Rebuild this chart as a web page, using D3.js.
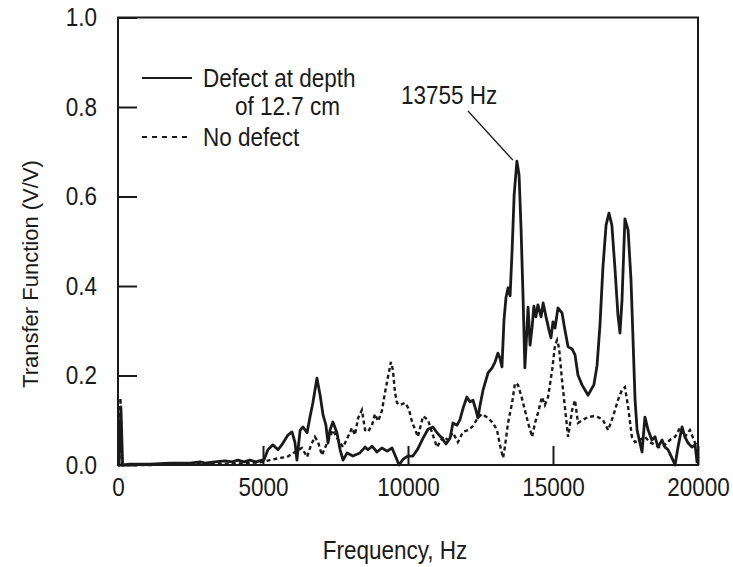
<!DOCTYPE html>
<html>
<head>
<meta charset="utf-8">
<script src="https://cdn.jsdelivr.net/npm/d3@7"></script>
<style>
  html, body { margin: 0; padding: 0; background: #fff; }
  svg { display: block; }
</style>
</head>
<body>
<div id="chart"></div>
<script>
// values: [frequency Hz, transfer function V/V]
const defectData = [
  [0, 0], [35, 0], [100, 0.13], [160, 0], [410, 0.002], [1100, 0.002], [1790, 0.004], [2480, 0.004],
  [2830, 0.007], [3000, 0.004], [3340, 0.007], [3690, 0.009], [3930, 0.007], [4140, 0.011], [4340, 0.007],
  [4550, 0.011], [4760, 0.007], [4970, 0.011], [5030, 0.011], [5170, 0.034], [5340, 0.045], [5520, 0.034],
  [5690, 0.049], [5860, 0.067], [6000, 0.074], [6100, 0.051], [6170, 0.011], [6280, 0.078], [6380, 0.085],
  [6520, 0.072], [6620, 0.107], [6720, 0.139], [6860, 0.194], [6970, 0.156], [7070, 0.112], [7170, 0.089],
  [7240, 0.049], [7310, 0.078], [7410, 0.096], [7550, 0.072], [7660, 0.034], [7760, 0.011], [7900, 0.027],
  [8100, 0.020], [8340, 0.027], [8520, 0.040], [8620, 0.034], [8760, 0.042], [8930, 0.029], [9100, 0.038],
  [9280, 0.031], [9450, 0.038], [9590, 0.016], [9690, 0], [9830, 0.013], [10000, 0.020], [10170, 0.020],
  [10340, 0.036], [10520, 0.060], [10690, 0.080], [10860, 0.085], [11000, 0.072], [11170, 0.060],
  [11310, 0.047], [11450, 0.060], [11550, 0.094], [11690, 0.089], [11790, 0.101], [11900, 0.127],
  [12030, 0.152], [12140, 0.141], [12240, 0.145], [12340, 0.123], [12410, 0.105], [12480, 0.132],
  [12590, 0.168], [12760, 0.206], [12900, 0.217], [13000, 0.230], [13100, 0.250], [13170, 0.239],
  [13240, 0.219], [13310, 0.324], [13380, 0.375], [13450, 0.396], [13520, 0.378], [13590, 0.480],
  [13660, 0.603], [13755, 0.679], [13830, 0.648], [13900, 0.525], [13970, 0.369], [14030, 0.217],
  [14100, 0.302], [14140, 0.353], [14210, 0.268], [14280, 0.308], [14340, 0.355], [14410, 0.331],
  [14480, 0.358], [14590, 0.331], [14660, 0.362], [14760, 0.331], [14860, 0.302], [14930, 0.284],
  [15000, 0.320], [15070, 0.306], [15170, 0.351], [15310, 0.340], [15410, 0.302], [15520, 0.264],
  [15660, 0.259], [15760, 0.246], [15860, 0.201], [16000, 0.179], [16100, 0.168], [16210, 0.156],
  [16310, 0.168], [16410, 0.179], [16520, 0.223], [16620, 0.313], [16720, 0.440], [16830, 0.536],
  [16930, 0.563], [17030, 0.536], [17140, 0.436], [17240, 0.335], [17310, 0.295], [17380, 0.369],
  [17480, 0.550], [17590, 0.525], [17690, 0.413], [17760, 0.279], [17830, 0.145], [17900, 0.078],
  [18000, 0.049], [18070, 0.029], [18170, 0.107], [18280, 0.078], [18410, 0.056], [18520, 0.063],
  [18620, 0.040], [18760, 0.056], [18860, 0.040], [18970, 0.034], [19100, 0.016], [19210, 0],
  [19310, 0.040], [19450, 0.085], [19550, 0.063], [19660, 0.049], [19790, 0.040], [19900, 0.045],
  [19970, 0.004]
];

const noDefectData = [
  [0, 0], [35, 0], [85, 0.15], [140, 0], [1100, 0], [2830, 0.002], [4550, 0.004], [5000, 0.007],
  [5240, 0.011], [5590, 0.016], [5830, 0.018], [6100, 0.029], [6340, 0.038], [6520, 0.018], [6660, 0.045],
  [6790, 0.063], [6900, 0.051], [7030, 0.022], [7210, 0.049], [7410, 0.078], [7590, 0.056], [7760, 0.040],
  [7930, 0.063], [8070, 0.083], [8170, 0.067], [8280, 0.105], [8410, 0.123], [8520, 0.078], [8620, 0.074],
  [8760, 0.089], [8860, 0.114], [8970, 0.098], [9100, 0.121], [9210, 0.163], [9310, 0.197], [9410, 0.230],
  [9480, 0.212], [9550, 0.163], [9620, 0.139], [9720, 0.134], [9900, 0.139], [10030, 0.125],
  [10140, 0.096], [10240, 0.080], [10340, 0.063], [10520, 0.109], [10690, 0.101], [10830, 0.072],
  [11000, 0.040], [11210, 0.063], [11380, 0.056], [11550, 0.072], [11720, 0.051], [11900, 0.074],
  [12070, 0.078], [12240, 0.087], [12380, 0.103], [12550, 0.114], [12760, 0.105], [12930, 0.094],
  [13070, 0.078], [13170, 0.045], [13280, 0.016], [13340, 0.040], [13450, 0.094], [13590, 0.139],
  [13690, 0.183], [13790, 0.179], [13900, 0.156], [14030, 0.123], [14140, 0.094], [14280, 0.063],
  [14380, 0.094], [14480, 0.116], [14620, 0.152], [14720, 0.134], [14830, 0.152], [14970, 0.212],
  [15070, 0.268], [15140, 0.279], [15210, 0.261], [15310, 0.190], [15410, 0.130], [15520, 0.063],
  [15660, 0.123], [15760, 0.145], [15860, 0.094], [16030, 0.101], [16210, 0.107], [16380, 0.109],
  [16550, 0.107], [16720, 0.101], [16900, 0.078], [17030, 0.101], [17140, 0.123], [17240, 0.145],
  [17380, 0.168], [17480, 0.174], [17590, 0.130], [17720, 0.063], [17830, 0.051], [18000, 0.056],
  [18170, 0.063], [18340, 0.051], [18520, 0.045], [18690, 0.040], [18860, 0.045], [19030, 0.056],
  [19210, 0.063], [19380, 0.083], [19550, 0.063], [19720, 0.078], [19900, 0.049], [19970, 0.045]
];

const xTicks = [0, 5000, 10000, 15000, 20000];
const yTicks = [0, 0.2, 0.4, 0.6, 0.8, 1.0];
const legendLabels = [['Defect at depth', 'of 12.7 cm'], ['No defect']];
const peakLabel = '13755 Hz';
const peakFreq = 13755;
const peakVal = 0.679;

const W = 733, H = 567;
const margin = { top: 17.5, right: 35, bottom: 102, left: 118 };
const width = W - margin.left - margin.right;
const height = H - margin.top - margin.bottom;
const ink = '#1a1a1a';
const font = 'Liberation Sans, Arial, Helvetica, sans-serif';
// the reference text is a bit taller than it is wide
const fs = 25;
const sx = 0.9;

const svg = d3.select('#chart').append('svg')
  .attr('width', W).attr('height', H)
  .append('g').attr('transform', `translate(${margin.left},${margin.top})`);

const x = d3.scaleLinear().domain([0, 20000]).range([0, width]);
const y = d3.scaleLinear().domain([0, 1]).range([height, 0]);

function label(px, py, txt, anchor = 'start') {
  return svg.append('text').attr('transform', `translate(${px},${py}) scale(${sx},1)`)
    .attr('text-anchor', anchor).attr('fill', ink).attr('font-size', fs + 'px')
    .attr('font-family', font).text(txt);
}

// frame
svg.append('rect').attr('x', 0).attr('y', 0).attr('width', width).attr('height', height)
  .attr('fill', 'none').attr('stroke', ink).attr('stroke-width', 2);

// axes with inward ticks
svg.append('g').attr('transform', `translate(0,${height})`)
  .call(d3.axisBottom(x).tickValues(xTicks).tickSize(-19).tickPadding(13).tickFormat(d3.format('d')))
  .call(g => g.select('.domain').remove())
  .call(g => g.selectAll('.tick line').attr('stroke', ink).attr('stroke-width', 2))
  .call(g => g.selectAll('.tick text').attr('transform', `scale(${sx},1)`)
    .attr('fill', ink).attr('font-size', fs + 'px').attr('font-family', font));

svg.append('g')
  .call(d3.axisLeft(y).tickValues(yTicks).tickSize(-19).tickPadding(21 / sx).tickFormat(d3.format('.1f')))
  .call(g => g.select('.domain').remove())
  .call(g => g.selectAll('.tick line').attr('stroke', ink).attr('stroke-width', 2))
  .call(g => g.selectAll('.tick text').attr('transform', `scale(${sx},1)`)
    .attr('fill', ink).attr('font-size', fs + 'px').attr('font-family', font));

// axis titles
label(277, 541, 'Frequency, Hz', 'middle');
svg.append('text').attr('transform', `translate(-80,${274 - margin.top}) rotate(-90)`)
  .attr('text-anchor', 'middle').attr('fill', ink).attr('font-size', '22px').attr('font-family', font)
  .text('Transfer Function (V/V)');

const line = d3.line().x(d => x(d[0])).y(d => y(d[1]));

svg.append('path').datum(noDefectData).attr('fill', 'none').attr('stroke', ink)
  .attr('stroke-width', 2.4).attr('stroke-dasharray', '4,3').attr('d', line);
svg.append('path').datum(defectData).attr('fill', 'none').attr('stroke', ink)
  .attr('stroke-width', 2.8).attr('stroke-linejoin', 'round').attr('d', line);

// legend
const lx = 142 - margin.left, ly = 78 - margin.top;
svg.append('line').attr('x1', lx).attr('x2', lx + 50).attr('y1', ly).attr('y2', ly)
  .attr('stroke', ink).attr('stroke-width', 2.2);
label(lx + 61, ly + 9, legendLabels[0][0]);
label(lx + 93, ly + 37, legendLabels[0][1]);
svg.append('line').attr('x1', lx).attr('x2', lx + 50).attr('y1', ly + 59).attr('y2', ly + 59)
  .attr('stroke', ink).attr('stroke-width', 2).attr('stroke-dasharray', '5,5');
label(lx + 61, ly + 68, legendLabels[1][0]);

// peak annotation
label(401 - margin.left, 104 - margin.top, peakLabel);
svg.append('line').attr('x1', 468 - margin.left).attr('y1', 111 - margin.top)
  .attr('x2', x(peakFreq) - 4).attr('y2', y(peakVal) - 1)
  .attr('stroke', ink).attr('stroke-width', 1.3);
</script>
</body>
</html>
